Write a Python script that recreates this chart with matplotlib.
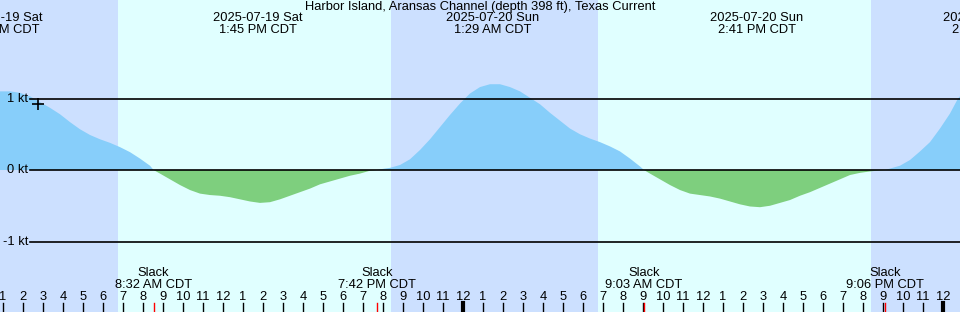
import numpy as np
import matplotlib
matplotlib.use("Agg")
import matplotlib.pyplot as plt
import matplotlib.transforms as mtransforms

# hours since 2025-07-19 00:00 CDT, current speed in knots (ebb > 0, flood < 0)
hours = [0.85, 1.35, 1.85, 2.35, 2.85, 3.35, 3.85, 4.35, 4.85, 5.35, 5.85, 6.35,
         6.85, 7.35, 7.85, 8.35, 8.53,
         8.85, 9.35, 9.85, 10.35, 10.85, 11.35, 11.85, 12.35, 12.85, 13.35, 13.85,
         14.35, 14.85, 15.35, 15.85, 16.35, 16.85, 17.35, 17.85, 18.35, 18.85,
         19.35, 19.7,
         19.85, 20.35, 20.85, 21.35, 21.85, 22.35, 22.85, 23.35, 23.85, 24.35,
         24.85, 25.35, 25.85, 26.35, 26.85, 27.35, 27.85, 28.35, 28.85, 29.35,
         29.85, 30.35, 30.85, 31.35, 31.85, 32.35, 32.85, 33.05,
         33.35, 33.85, 34.35, 34.85, 35.35, 35.85, 36.35, 36.85, 37.35, 37.85,
         38.35, 38.85, 39.35, 39.85, 40.35, 40.85, 41.35, 41.85, 42.35, 42.85,
         43.35, 43.85, 44.35, 44.85, 45.1,
         45.35, 45.85, 46.35, 46.85, 47.35, 47.85, 48.35, 48.75, 48.85]
speed = [1.10, 1.10, 1.08, 1.03, 0.95, 0.87, 0.78, 0.67, 0.57, 0.49, 0.43, 0.38,
         0.32, 0.25, 0.16, 0.06, 0.0,
         -0.05, -0.13, -0.21, -0.28, -0.33, -0.35, -0.36, -0.38, -0.41, -0.44, -0.46,
         -0.45, -0.41, -0.36, -0.31, -0.26, -0.20, -0.16, -0.12, -0.08, -0.05,
         -0.01, 0.0,
         0.01, 0.03, 0.07, 0.15, 0.28, 0.43, 0.60, 0.77, 0.93, 1.07,
         1.16, 1.20, 1.20, 1.16, 1.10, 1.01, 0.92, 0.80, 0.69, 0.58,
         0.50, 0.44, 0.39, 0.33, 0.26, 0.16, 0.05, 0.0,
         -0.05, -0.13, -0.21, -0.28, -0.33, -0.35, -0.37, -0.40, -0.44, -0.48,
         -0.51, -0.52, -0.50, -0.46, -0.42, -0.36, -0.31, -0.25, -0.19, -0.13,
         -0.07, -0.04, -0.02, -0.005, 0.0,
         0.02, 0.06, 0.14, 0.26, 0.39, 0.58, 0.79, 1.0, 1.03]

# max/min current events (top labels)
peak_hours = [0.72, 13.75, 25.48, 38.68, 50.37]
peak_dates = ["2025-07-19 Sat", "2025-07-19 Sat", "2025-07-20 Sun", "2025-07-20 Sun", "2025-07-21 Mon"]
peak_times = ["12:43 AM CDT", "1:45 PM CDT", "1:29 AM CDT", "2:41 PM CDT", "2:22 AM CDT"]

# slack water events (bottom labels)
slack_hours = [8.53, 19.7, 33.05, 45.1]
slack_times = ["8:32 AM CDT", "7:42 PM CDT", "9:03 AM CDT", "9:06 PM CDT"]

# night periods (sunset to sunrise)
night_start = [0.0, 20.4, 44.4]
night_end = [6.75, 30.75, 50.0]

marker_hour = 2.75
marker_speed = 0.93

levels = [1, 0, -1]
level_labels = ["1 kt", "0 kt", "-1 kt"]

title = "Harbor Island, Aransas Channel (depth 398 ft), Texas Current"

plt.rcParams['font.family'] = ['Liberation Sans', 'DejaVu Sans']
FS = 9.3

fig = plt.figure(figsize=(9.6, 3.12), dpi=100)
fig.patch.set_facecolor("#e0ffff")
ax = fig.add_axes([0, 0, 1, 1])
x0, x1 = 0.85, 48.85
ax.set_xlim(x0, x1)
ax.set_ylim(-1.986, 2.378)
ax.axis("off")

for a, b in zip(night_start, night_end):
    ax.axvspan(a, b, color="#cce0ff", lw=0, zorder=0)

h = np.array(hours)
s = np.array(speed)
ax.fill_between(h, 0, s, where=s >= 0, interpolate=True, color="#87cefa", lw=0, zorder=1)
ax.fill_between(h, 0, s, where=s <= 0, interpolate=True, color="#7ecf7e", lw=0, zorder=1)

for lv, lab in zip(levels, level_labels):
    ax.plot([2.35, x1], [lv, lv], color="black", lw=1.2, zorder=2)
    ax.text(2.25, lv, lab, ha="right", va="center", fontsize=FS, zorder=3)

ax.plot([marker_hour], [marker_speed], marker="+", color="black", ms=9, mew=1.2, zorder=4)

trans = mtransforms.blended_transform_factory(ax.transData, ax.transAxes)
tick_top = 9.5 / 312
for hr in range(1, 49):
    lw = 3 if hr % 24 == 0 else 1
    ax.plot([hr, hr], [0, tick_top], color="black", lw=lw, transform=trans, zorder=3)
    ax.text(hr, 15 / 312, str((hr - 1) % 12 + 1), ha="center", va="center",
            fontsize=FS, transform=trans, zorder=3)

for t, lab in zip(slack_hours, slack_times):
    ax.plot([t, t], [0, tick_top], color="red", lw=1, transform=trans, zorder=4)
    ax.text(t, (312 - 273) / 312, "Slack", ha="center", va="center", fontsize=FS,
            transform=trans, zorder=3)
    ax.text(t, (312 - 285) / 312, lab, ha="center", va="center", fontsize=FS,
            transform=trans, zorder=3)

for t, d, tm in zip(peak_hours, peak_dates, peak_times):
    ax.text(t, (312 - 18) / 312, d, ha="center", va="center", fontsize=FS,
            transform=trans, zorder=3, clip_on=False)
    ax.text(t, (312 - 30) / 312, tm, ha="center", va="center", fontsize=FS,
            transform=trans, zorder=3, clip_on=False)

fig.text(0.5, (312 - 7) / 312, title, ha="center", va="center", fontsize=FS)

fig.savefig("out.png", dpi=100, facecolor=fig.get_facecolor())
